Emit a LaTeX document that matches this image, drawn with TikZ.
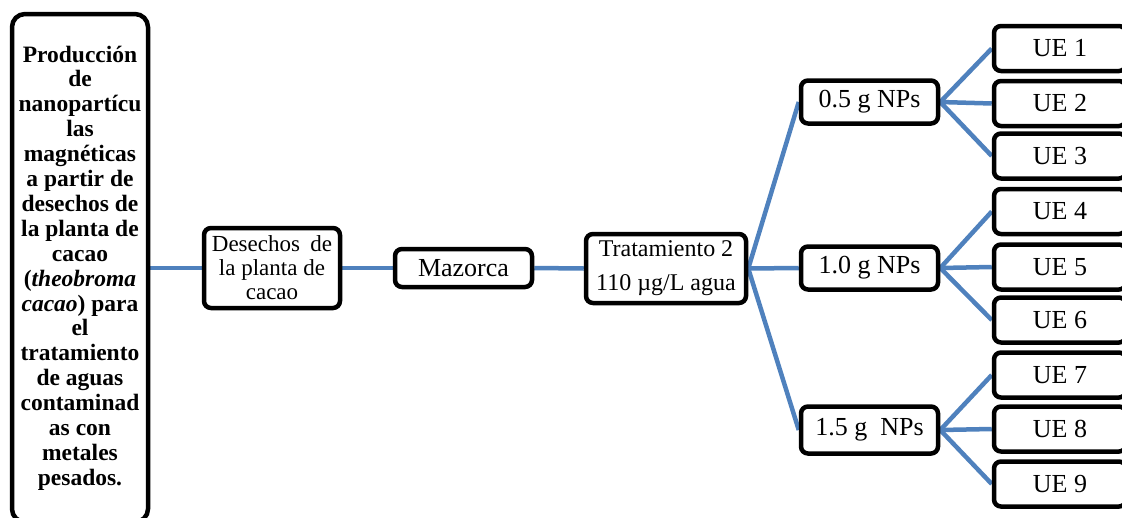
\documentclass[tikz,border=0pt]{standalone}
\usepackage{fontspec}
\setmainfont{Liberation Serif}
\usetikzlibrary{backgrounds}
\definecolor{cblue}{RGB}{79,129,189}
\begin{document}
\begin{tikzpicture}[x=1pt,y=-1pt,
  box/.style={draw=black, fill=white, line width=4.5pt, rounded corners=7pt, inner sep=0pt, align=center},
  conn/.style={draw=cblue, line width=4.5pt},
  big/.style={font=\fontsize{26}{30}\selectfont}]
\useasboundingbox (0,0) rectangle (1122,517);
\clip (0,0) rectangle (1122,517);
% left title box
\node[box, rounded corners=13pt, minimum width=136pt, minimum height=508pt,
      font=\bfseries\fontsize{23.5}{24.9}\selectfont] (title) at (80,268)
 {Producción\\de\\nanopartícu\\las\\magnéticas\\a partir de\\desechos de\\la planta de\\cacao\\(\textit{theobroma}\\\textit{cacao}) para\\el\\tratamiento\\de aguas\\contaminad\\as con\\metales\\pesados.};
\node[box, minimum width=136pt, minimum height=80pt, font=\fontsize{23}{24}\selectfont] (des) at (272,268)
 {Desechos\hspace{0.45em}de\\la planta de\\cacao};
\node[box, big, minimum width=137pt, minimum height=38pt] (maz) at (463.5,268) {Mazorca};
\node[box, minimum width=160pt, minimum height=69pt, font=\fontsize{24}{34}\selectfont] (trat) at (666,268.5)
 {Tratamiento 2\\110 µg/L agua};
% NP boxes
\node[box, big, minimum width=137pt, minimum height=43pt] (np1) at (869.5,102) {0.5 g NPs};
\node[box, big, minimum width=137pt, minimum height=43pt] (np2) at (869.5,268) {1.0 g NPs};
\node[box, big, minimum width=137pt, minimum height=47pt] (np3) at (869.5,430) {1.5 g\ \ NPs};
% UE boxes
\foreach \i/\y in {1/48.5,2/103.5,3/156,4/211.5,5/267,6/320,7/375,8/429,9/484}{
  \node[box, big, minimum width=132pt, minimum height=45pt] (ue\i) at (1060,\y) {UE \i};
}
\begin{scope}[on background layer]
\draw[conn] (title.east) -- (des.west);
\draw[conn] (des.east) -- (maz.west);
\draw[conn] (maz.east) -- (trat.west);
\draw[conn] (trat.east) -- (np1.west);
\draw[conn] (trat.east) -- (np2.west);
\draw[conn] (trat.east) -- (np3.west);
\foreach \n/\a/\b/\c in {np1/ue1/ue2/ue3, np2/ue4/ue5/ue6, np3/ue7/ue8/ue9}{
  \draw[conn] (\n.east) -- (\a.west);
  \draw[conn] (\n.east) -- (\b.west);
  \draw[conn] (\n.east) -- (\c.west);
}
\end{scope}
\end{tikzpicture}
\end{document}
